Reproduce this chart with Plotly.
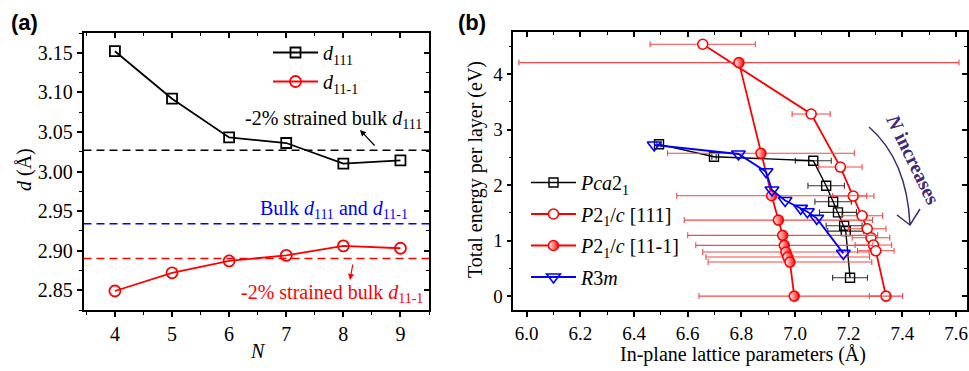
import plotly.graph_objects as go

# ---------------- data: panel (a) ----------------
N = [4, 5, 6, 7, 8, 9]
d111 = [3.152, 3.092, 3.043, 3.036, 3.010, 3.014]
d11m1 = [2.849, 2.872, 2.887, 2.894, 2.906, 2.903]
strained_d111 = 3.027
bulk_d = 2.934
strained_d11m1 = 2.890

# ---------------- data: panel (b) ----------------
pca_x = [6.493, 6.698, 7.068, 7.116, 7.142, 7.160, 7.183, 7.189, 7.205]
pca_y = [2.733, 2.510, 2.438, 1.987, 1.699, 1.508, 1.267, 1.171, 0.330]
pca_err = [0.008, 0.008, 0.067, 0.068, 0.068, 0.069, 0.067, 0.067, 0.065]

p111_x = [6.656, 7.060, 7.169, 7.217, 7.250, 7.269, 7.283, 7.292, 7.301, 7.339]
p111_y = [4.535, 3.279, 2.324, 1.802, 1.447, 1.213, 1.050, 0.919, 0.816, 0.0]
p111_err = [0.196, 0.071, 0.081, 0.077, 0.076, 0.070, 0.070, 0.068, 0.068, 0.062]

p11m1_x = [6.791, 6.873, 6.913, 6.938, 6.954, 6.960, 6.966, 6.973, 6.981, 6.997]
p11m1_y = [4.204, 2.571, 1.807, 1.369, 1.094, 0.914, 0.793, 0.703, 0.613, 0.0]
p11m1_err = [0.820, 0.348, 0.354, 0.351, 0.354, 0.33, 0.31, 0.305, 0.305, 0.355]

r3m_x = [6.475, 6.789, 6.892, 6.914, 6.963, 7.021, 7.046, 7.081, 7.180]
r3m_y = [2.721, 2.559, 2.240, 1.910, 1.721, 1.580, 1.519, 1.400, 0.769]

W, H = 969, 371
def px(x): return x / W
def py(y): return 1 - y / H

FONT = 'Liberation Serif'
RED = '#ff0000'
ERR_RED = '#f04a4a'

fig = go.Figure()

# ---- panel (a) ----
fig.add_trace(go.Scatter(x=N, y=d111, mode='lines+markers', name='<i>d</i><sub>111</sub>',
                         line=dict(color='black', width=1.8),
                         marker=dict(symbol='square-open', size=10, color='black', line=dict(width=1.8)),
                         xaxis='x', yaxis='y', legend='legend'))
fig.add_trace(go.Scatter(x=N, y=d11m1, mode='lines+markers', name='<i>d</i><sub>11-1</sub>',
                         line=dict(color=RED, width=1.8),
                         marker=dict(symbol='circle-open', size=11, color=RED, line=dict(width=1.8)),
                         xaxis='x', yaxis='y', legend='legend'))

# ---- panel (b) ----
fig.add_trace(go.Scatter(x=pca_x, y=pca_y, mode='lines+markers', name='<i>Pca</i>2<sub>1</sub>',
                         line=dict(color='black', width=1.4), legendgroup='g1',
                         marker=dict(symbol='square-open', size=9, color='black', line=dict(width=1.4)),
                         error_x=dict(type='data', array=pca_err, color='#333333', thickness=1.1, width=3),
                         xaxis='x2', yaxis='y2', legend='legend2'))
fig.add_trace(go.Scatter(x=p111_x, y=p111_y, mode='lines+markers', name='<i>P</i>2<sub>1</sub>/<i>c</i> [111]',
                         line=dict(color=RED, width=1.8), legendgroup='g2',
                         marker=dict(symbol='circle', size=10, color='white', line=dict(color=RED, width=1.6)),
                         error_x=dict(type='data', array=p111_err, color=ERR_RED, thickness=1.1, width=3),
                         xaxis='x2', yaxis='y2', legend='legend2'))
fig.add_trace(go.Scatter(x=p11m1_x, y=p11m1_y, mode='lines+markers', name='<i>P</i>2<sub>1</sub>/<i>c</i> [11-1]',
                         line=dict(color=RED, width=1.8), legendgroup='g3',
                         marker=dict(symbol='circle', size=10, color='white',
                                     gradient=dict(type='horizontal', color=RED),
                                     line=dict(color=RED, width=1.6)),
                         error_x=dict(type='data', array=p11m1_err, color=ERR_RED, thickness=1.1, width=3),
                         xaxis='x2', yaxis='y2', legend='legend2'))
fig.add_trace(go.Scatter(x=r3m_x, y=r3m_y, mode='lines+markers', name='<i>R</i>3<i>m</i>',
                         line=dict(color='#0000ff', width=1.8), legendgroup='g4',
                         marker=dict(symbol='triangle-down-open', size=12, color='#0000ff', line=dict(width=1.6)),
                         xaxis='x2', yaxis='y2', legend='legend2'))

# dummy traces so mirrored (inward-tick) axes render
for xa, ya in [('x3', 'y'), ('x', 'y3'), ('x4', 'y2'), ('x2', 'y4')]:
    fig.add_trace(go.Scatter(x=[], y=[], xaxis=xa, yaxis=ya, showlegend=False, hoverinfo='skip'))

XR_A = [3.45, 9.5]
YR_A = [2.825, 3.175]
XR_B = [5.95, 7.642]
YR_B = [-0.25, 4.75]
DOM_XA = [px(83.5), px(429)]
DOM_XB = [px(513.3), px(967.3)]
DOM_Y = [py(310), py(33)]
DOM_YB = [py(310), py(32.3)]

tickfont = dict(family=FONT, size=20, color='black')
tickfont_b = dict(family=FONT, size=19, color='black')

def base_axis(rng, dom, anchor, dtick, tick0, mdtick, tf, fmt=None):
    d = dict(range=rng, domain=dom, anchor=anchor, showline=True, linecolor='black', linewidth=1.6,
             mirror=True, ticks='outside', ticklen=5, tickwidth=1.5, tickcolor='black',
             dtick=dtick, tick0=tick0, tickfont=tf, showgrid=False, zeroline=False,
             minor=dict(dtick=mdtick, tick0=tick0, ticks='outside', ticklen=3, tickwidth=1.2,
                        tickcolor='black', showgrid=False))
    if fmt:
        d['tickformat'] = fmt
    return d

def mirror_axis(rng, over, anchor, side, dtick, tick0, mdtick):
    return dict(range=rng, overlaying=over, anchor=anchor, side=side, showline=False,
                ticks='inside', ticklen=5, tickwidth=1.5, tickcolor='black',
                dtick=dtick, tick0=tick0, showticklabels=False, showgrid=False, zeroline=False,
                minor=dict(dtick=mdtick, tick0=tick0, ticks='inside', ticklen=3, tickwidth=1.2,
                           tickcolor='black', showgrid=False))

fig.update_layout(
    width=W, height=H, margin=dict(l=0, r=0, t=0, b=0),
    paper_bgcolor='white', plot_bgcolor='white',
    xaxis=base_axis(XR_A, DOM_XA, 'y', 1, 4, 0.5, tickfont),
    yaxis=base_axis(YR_A, DOM_Y, 'x', 0.05, 2.85, 0.025, tickfont, '.2f'),
    xaxis3=mirror_axis(XR_A, 'x', 'y', 'top', 1, 4, 0.5),
    yaxis3=mirror_axis(YR_A, 'y', 'x', 'right', 0.05, 2.85, 0.025),
    xaxis2=base_axis(XR_B, DOM_XB, 'y2', 0.2, 6.0, 0.1, tickfont_b, '.1f'),
    yaxis2=base_axis(YR_B, DOM_YB, 'x2', 1, 0, 0.5, tickfont_b),
    xaxis4=mirror_axis(XR_B, 'x2', 'y2', 'top', 0.2, 6.0, 0.1),
    yaxis4=mirror_axis(YR_B, 'y2', 'x2', 'right', 1, 0, 0.5),
    legend=dict(x=px(268), y=py(33), xanchor='left', yanchor='top', bgcolor='rgba(0,0,0,0)',
                font=dict(family=FONT, size=20, color='black'), itemwidth=45, tracegroupgap=0),
    legend2=dict(x=px(526), y=py(163), xanchor='left', yanchor='top', bgcolor='rgba(0,0,0,0)',
                 font=dict(family=FONT, size=20, color='black'), itemwidth=45, tracegroupgap=2.5),
    showlegend=True,
)

# reference dashed lines in (a)
for val, col in [(strained_d111, 'black'), (bulk_d, '#0000ff'), (strained_d11m1, RED)]:
    fig.add_shape(type='line', xref='x domain', yref='y', x0=0, x1=1, y0=val, y1=val,
                  line=dict(color=col, width=1.5, dash='8px,5px'))

ann = []
def txt(text, x, y, size=20, color='black', angle=0, family=FONT, xanchor='center'):
    ann.append(dict(text=text, x=px(x), y=py(y), xref='paper', yref='paper', showarrow=False,
                    font=dict(family=family, size=size, color=color), textangle=angle,
                    xanchor=xanchor, yanchor='middle'))

txt('<b>(a)</b>', 24, 22, size=22, family='Liberation Sans')
txt('<b>(b)</b>', 472, 22, size=22, family='Liberation Sans')
txt('<i>d</i> (Å)', 24, 170, angle=-90)
txt('<i>N</i>', 258, 351)
txt('Total energy per layer (eV)', 475, 170, angle=-90)
txt('In-plane lattice parameters (Å)', 743, 354)
txt('-2% strained bulk <i>d</i><sub>111</sub>', 333, 120)
txt('Bulk <i>d</i><sub>111</sub> and <i>d</i><sub>11-1</sub>', 334, 209, color='#0000ff')
txt('-2% strained bulk <i>d</i><sub>11-1</sub>', 332, 293, color=RED)
txt('<b><i>N</i> increases</b>', 913, 159, size=20, color='#402878', angle=64)

# small arrows in (a)
ann.append(dict(x=px(360), y=py(130), xref='paper', yref='paper', ax=16, ay=17, text='',
                showarrow=True, arrowhead=2, arrowsize=1, arrowwidth=1.2, arrowcolor='black'))
ann.append(dict(x=px(350), y=py(280), xref='paper', yref='paper', ax=3, ay=-17, text='',
                showarrow=True, arrowhead=2, arrowsize=1, arrowwidth=1.2, arrowcolor=RED))
fig.update_layout(annotations=ann)

# curved arrow in (b)
p0 = (869, 127); c = (907, 160); p2 = (910, 225); h1 = (897, 215); h2 = (920, 209)
path = (f'M {px(p0[0])},{py(p0[1])} Q {px(c[0])},{py(c[1])} {px(p2[0])},{py(p2[1])} '
        f'M {px(h1[0])},{py(h1[1])} L {px(p2[0])},{py(p2[1])} L {px(h2[0])},{py(h2[1])}')
fig.add_shape(type='path', xref='paper', yref='paper', path=path,
              line=dict(color='#402878', width=1.5))

fig.write_html('out.html')
